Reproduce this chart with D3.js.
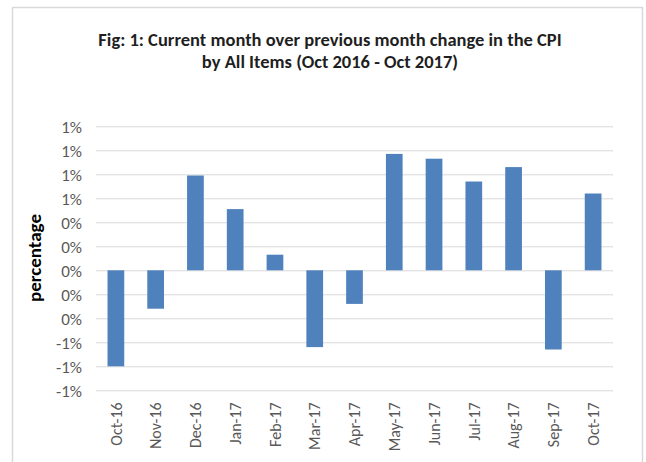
<!DOCTYPE html>
<html>
<head>
<meta charset="utf-8">
<script src="https://cdn.jsdelivr.net/npm/d3@7"></script>
<style>
  html, body { margin: 0; padding: 0; background: #fff; }
  svg { display: block; }
  text { font-family: Carlito, Calibri, Lato, "Open Sans", sans-serif; }
</style>
</head>
<body>
<svg id="chart" width="646" height="462"></svg>
<script>
const categories = ["Oct-16","Nov-16","Dec-16","Jan-17","Feb-17","Mar-17","Apr-17","May-17","Jun-17","Jul-17","Aug-17","Sep-17","Oct-17"];
const values = [-0.80, -0.32, 0.79, 0.51, 0.13, -0.64, -0.28, 0.97, 0.93, 0.74, 0.86, -0.66, 0.64];
const tickValues = [1.2, 1.0, 0.8, 0.6, 0.4, 0.2, 0, -0.2, -0.4, -0.6, -0.8, -1.0];
const tickLabels = ["1%","1%","1%","1%","0%","0%","0%","0%","0%","-1%","-1%","-1%"];
const titleLines = ["Fig: 1: Current month over previous month change in the CPI", "by All Items (Oct 2016 - Oct 2017)"];
const yTitle = "percentage";

(function () {
const svg = d3.select("#chart");

// outer frame
svg.append("rect").attr("x", 12.5).attr("y", 7.5).attr("width", 630).attr("height", 470)
  .attr("fill", "#fff").attr("stroke", "#d9d9d9").attr("stroke-width", 1.5);

const pLeft = 96, pRight = 613, pTop = 126.3, pBottom = 390.3;

const x = d3.scaleBand().domain(categories).range([pLeft, pRight]).paddingInner(0.58).paddingOuter(0.29);
const y = d3.scaleLinear().domain([-1.0, 1.2]).range([pBottom, pTop]);

// gridlines
const yAxis = d3.axisLeft(y).tickValues(tickValues).tickSize(-(pRight - pLeft))
  .tickFormat((d, i) => tickLabels[i]);
const gy = svg.append("g").attr("transform", `translate(${pLeft},0)`).call(yAxis);
gy.select(".domain").remove();
gy.selectAll(".tick line").attr("stroke", "#d9d9d9").attr("stroke-width", 1);
gy.selectAll(".tick text").attr("x", -14).attr("dy", "0.36em").attr("fill", "#595959")
  .style("font-size", "17px");

// bars
svg.append("g").selectAll("rect").data(values).join("rect")
  .attr("x", (d, i) => x(categories[i]))
  .attr("width", x.bandwidth())
  .attr("y", d => y(Math.max(0, d)))
  .attr("height", d => Math.abs(y(d) - y(0)))
  .attr("fill", "#4f81bd");

// x labels
const xAxis = d3.axisBottom(x).tickSize(0);
const gx = svg.append("g").attr("transform", `translate(0,${pBottom})`).call(xAxis);
gx.select(".domain").remove();
gx.selectAll(".tick text")
  .attr("transform", "rotate(-90)")
  .attr("x", -12).attr("y", 0).attr("dy", "0.36em")
  .attr("text-anchor", "end")
  .attr("fill", "#595959")
  .style("font-size", "16px");

// title
svg.append("g").selectAll("text").data(titleLines).join("text")
  .attr("x", 330).attr("y", (d, i) => 46 + i * 22)
  .attr("text-anchor", "middle")
  .attr("font-weight", "bold")
  .attr("fill", "#1f1f1f")
  .style("font-size", "18.5px")
  .text(d => d);

// y title
svg.append("text")
  .attr("transform", `translate(41,258) rotate(-90)`)
  .attr("text-anchor", "middle")
  .attr("font-weight", "bold")
  .attr("fill", "#000")
  .style("font-size", "19px")
  .text(yTitle);
})();
</script>
</body>
</html>
